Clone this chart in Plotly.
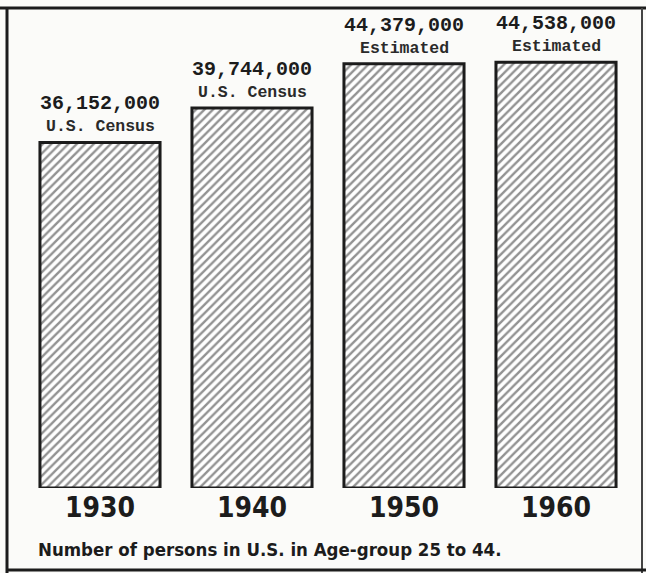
import plotly.graph_objects as go

# Census counts and estimates, persons aged 25 to 44
years = ["1930", "1940", "1950", "1960"]
persons = [36152000, 39744000, 44379000, 44538000]
value_labels = ["36,152,000", "39,744,000", "44,379,000", "44,538,000"]
sources = ["U.S. Census", "U.S. Census", "Estimated", "Estimated"]
caption = "Number of persons in U.S. in Age-group 25 to 44."

INK = "#1c1c1c"
PAPER = "#fbfbf9"
MONO = "Courier New, Liberation Mono, monospace"
NARROW = "DejaVu Sans Condensed, Liberation Sans Narrow, sans-serif"

W, H = 646, 573
ML, MR, MT, MB = 24, 14, 10, 85
PW, PH = W - ML - MR, H - MT - MB


def px_x(px):
    return (px - ML) / PW


def px_y(py):
    return (H - MB - py) / PH


fig = go.Figure(
    go.Bar(
        x=list(range(len(years))),
        y=persons,
        width=0.79,
        marker=dict(
            color="white",
            line=dict(color=INK, width=3),
            pattern=dict(shape="/", fgcolor="#262626", bgcolor="white",
                         size=6, solidity=0.4),
        ),
        hoverinfo="skip",
    )
)

annotations = []
for i, (v, lab, src) in enumerate(zip(persons, value_labels, sources)):
    annotations.append(dict(
        x=i, y=v, xref="x", yref="y", text=f"<b>{src}</b>", showarrow=False,
        yanchor="bottom", yshift=4,
        font=dict(family=MONO, size=16.5, color="#2a2a2a"),
    ))
    annotations.append(dict(
        x=i, y=v, xref="x", yref="y", text=f"<b>{lab}</b>", showarrow=False,
        yanchor="bottom", yshift=25,
        font=dict(family=MONO, size=20, color=INK),
    ))

annotations.append(dict(
    x=px_x(36), y=px_y(549), xref="paper", yref="paper", text=f"<b>{caption}</b>",
    showarrow=False, xanchor="left", yanchor="middle",
    font=dict(family=NARROW, size=18.5, color=INK),
))

# frame lines around the figure
shapes = [
    dict(type="line", xref="paper", yref="paper", x0=px_x(0), x1=px_x(646),
         y0=px_y(8), y1=px_y(8), line=dict(color=INK, width=3)),
    dict(type="line", xref="paper", yref="paper", x0=px_x(7), x1=px_x(7),
         y0=px_y(8), y1=px_y(573), line=dict(color=INK, width=3)),
    dict(type="line", xref="paper", yref="paper", x0=px_x(642), x1=px_x(642),
         y0=px_y(8), y1=px_y(573), line=dict(color="#444444", width=2)),
    dict(type="line", xref="paper", yref="paper", x0=px_x(7), x1=px_x(646),
         y0=px_y(570), y1=px_y(570), line=dict(color=INK, width=3)),
]

fig.update_layout(
    width=W, height=H,
    margin=dict(l=ML, r=MR, t=MT, b=MB),
    paper_bgcolor=PAPER, plot_bgcolor=PAPER,
    showlegend=False,
    annotations=annotations,
    shapes=shapes,
    xaxis=dict(
        range=[-0.5, 3.5], tickmode="array",
        tickvals=list(range(len(years))), ticktext=[f"<b>{y}</b>" for y in years],
        tickfont=dict(family=NARROW, size=28, color=INK),
        showgrid=False, zeroline=False, showline=False, ticks="",
        ticklabelstandoff=0,
    ),
    yaxis=dict(range=[0, 50000000], visible=False, showgrid=False),
)

fig.write_html("out.html")
